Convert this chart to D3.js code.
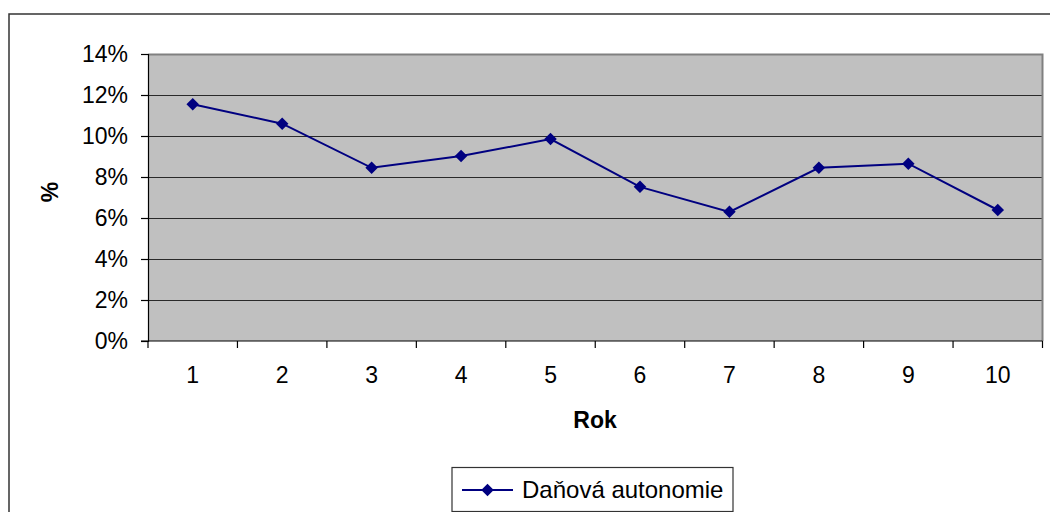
<!DOCTYPE html>
<html>
<head>
<meta charset="utf-8">
<script src="https://cdn.jsdelivr.net/npm/d3@7"></script>
<style>
  html, body { margin: 0; padding: 0; background: #fff; }
  svg { display: block; }
  text { font-family: "Liberation Sans", Arial, sans-serif; fill: #000; }
</style>
</head>
<body>
<svg id="chart" width="1050" height="512"></svg>
<script>
const categories = ["1", "2", "3", "4", "5", "6", "7", "8", "9", "10"];
const seriesName = "Daňová autonomie";
const values = [0.1155, 0.106, 0.0845, 0.0902, 0.0985, 0.0752, 0.0630, 0.0845, 0.0865, 0.0639];
const yTicks = [0, 0.02, 0.04, 0.06, 0.08, 0.10, 0.12, 0.14];
const xTitle = "Rok";
const yTitle = "%";

(function () {
const svg = d3.select("#chart");
const pL = 148, pR = 1042.5, pT = 54, pB = 341;

// outer chart frame
svg.append("rect")
  .attr("x", 9).attr("y", 14).attr("width", 1060).attr("height", 520)
  .attr("fill", "#fff").attr("stroke", "#333").attr("stroke-width", 1.5);

const x = d3.scaleBand().domain(categories).range([pL, pR]).padding(0);
const y = d3.scaleLinear().domain([0, 0.14]).range([pB, pT]);

// plot area
svg.append("rect")
  .attr("x", pL).attr("y", pT).attr("width", pR - pL).attr("height", pB - pT)
  .attr("fill", "#c0c0c0");

// gridlines
svg.append("g").selectAll("line")
  .data(yTicks.filter(t => t > 0 && t < 0.14))
  .join("line")
  .attr("x1", pL).attr("x2", pR)
  .attr("y1", d => Math.round(y(d)) + 0.5).attr("y2", d => Math.round(y(d)) + 0.5)
  .attr("stroke", "#2a2a2a").attr("stroke-width", 1.2);

// plot border top/right
svg.append("path")
  .attr("d", `M${pL},${pT + 0.5}H${pR}V${pB}`)
  .attr("fill", "none").attr("stroke", "#808080").attr("stroke-width", 2);

// y axis
const yAxis = d3.axisLeft(y).tickValues(yTicks).tickSize(7).tickPadding(13)
  .tickFormat(d => Math.round(d * 100) + "%");
const gy = svg.append("g").attr("transform", `translate(${pL},0)`).call(yAxis);
gy.select(".domain").attr("stroke", "#000").attr("stroke-width", 1.2);
gy.selectAll(".tick line").attr("stroke", "#000").attr("stroke-width", 1.2);
gy.selectAll("text").attr("font-size", 23).attr("font-family", "Liberation Sans, Arial, sans-serif").attr("fill", "#000");

// x axis: ticks between categories
const gx = svg.append("g").attr("transform", `translate(0,${pB})`);
gx.append("line").attr("x1", pL - 7).attr("x2", pR).attr("y1", 0).attr("y2", 0)
  .attr("stroke", "#000").attr("stroke-width", 1.2);
const bounds = categories.map(c => x(c)).concat([pR]);
gx.selectAll("line.tk").data(bounds).join("line").attr("class", "tk")
  .attr("x1", d => d).attr("x2", d => d).attr("y1", 0).attr("y2", 7)
  .attr("stroke", "#000").attr("stroke-width", 1.2);
gx.selectAll("text").data(categories).join("text")
  .attr("x", d => x(d) + x.bandwidth() / 2).attr("y", 42)
  .attr("text-anchor", "middle").attr("font-size", 23).text(d => d);

// axis titles
svg.append("text").attr("x", 595).attr("y", 428).attr("text-anchor", "middle")
  .attr("font-size", 23).attr("font-weight", "bold").text(xTitle);
svg.append("text").attr("transform", "translate(58,192) rotate(-90)")
  .attr("text-anchor", "middle").attr("font-size", 23).attr("font-weight", "bold").text(yTitle);

// series line
const line = d3.line().x((d, i) => x(categories[i]) + x.bandwidth() / 2).y(d => y(d));
svg.append("path").datum(values).attr("d", line)
  .attr("fill", "none").attr("stroke", "#000080").attr("stroke-width", 2);

const diamond = d3.symbol().type(d3.symbolDiamond2).size(100);
svg.append("g").selectAll("path").data(values).join("path")
  .attr("transform", (d, i) => `translate(${x(categories[i]) + x.bandwidth() / 2},${y(d)})`)
  .attr("d", diamond).attr("fill", "#000080");

// legend
const lg = svg.append("g");
lg.append("rect").attr("x", 452).attr("y", 467.5).attr("width", 281).attr("height", 44)
  .attr("fill", "#fff").attr("stroke", "#333").attr("stroke-width", 1.2);
lg.append("line").attr("x1", 462).attr("x2", 513).attr("y1", 490).attr("y2", 490)
  .attr("stroke", "#000080").attr("stroke-width", 2);
lg.append("path").attr("transform", "translate(487.5,490)").attr("d", diamond).attr("fill", "#000080");
lg.append("text").attr("x", 522).attr("y", 498).attr("font-size", 24).text(seriesName);
})();
</script>
</body>
</html>
